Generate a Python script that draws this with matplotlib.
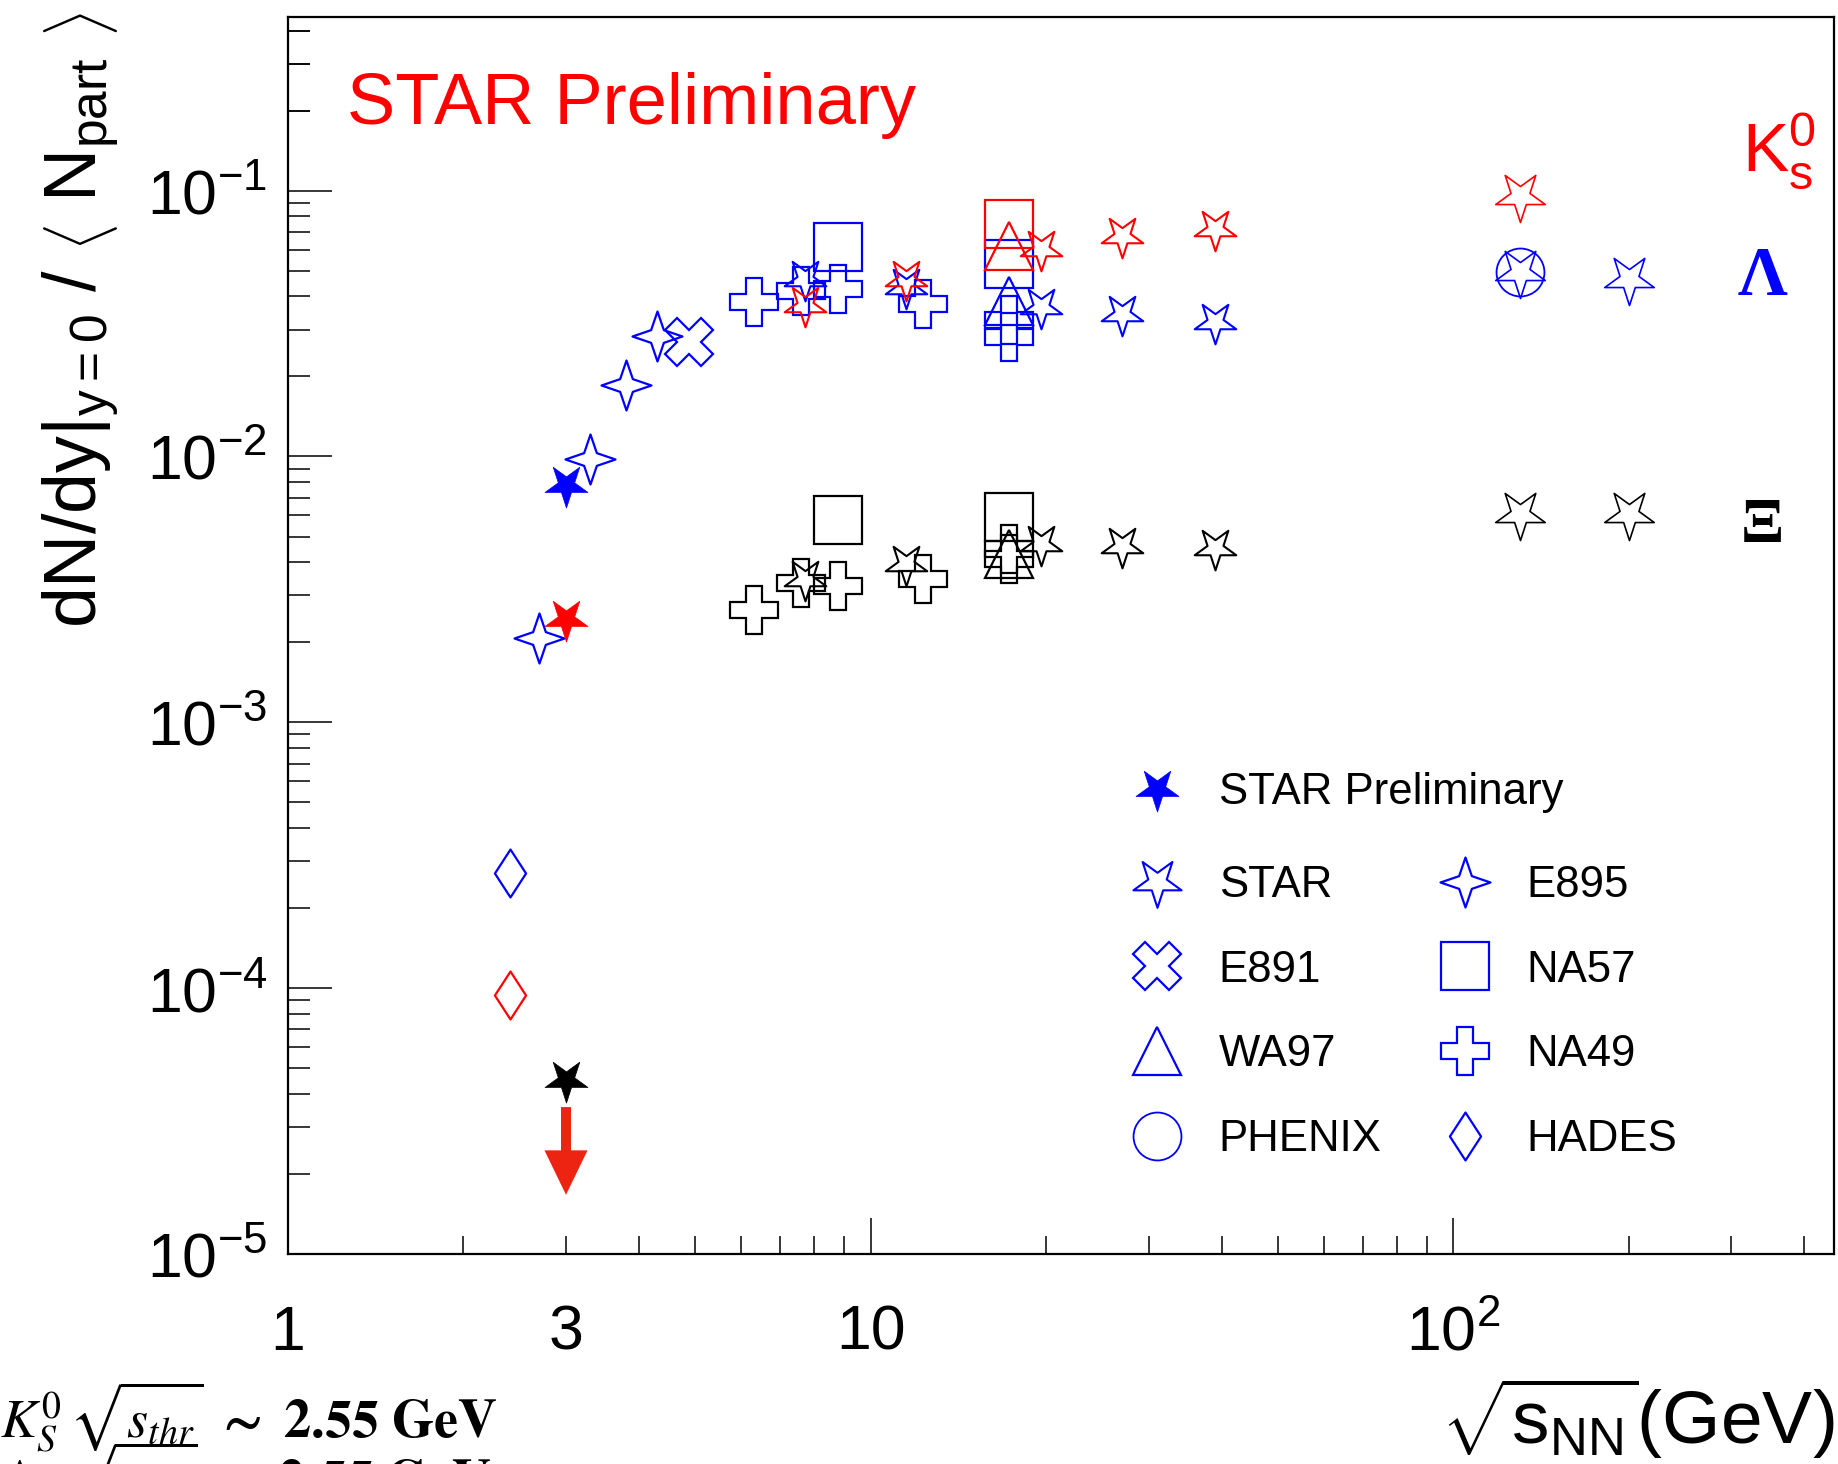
import numpy as np
import matplotlib
matplotlib.use("Agg")
import matplotlib.pyplot as plt
from matplotlib.path import Path
from matplotlib.lines import Line2D
from matplotlib.ticker import FixedLocator, FixedFormatter, FuncFormatter, NullFormatter

plt.rcParams['font.family'] = ['Liberation Sans', 'DejaVu Sans']
plt.rcParams['mathtext.fontset'] = 'custom'
plt.rcParams['mathtext.rm'] = 'Liberation Sans'
plt.rcParams['mathtext.it'] = 'Liberation Sans:italic'
plt.rcParams['mathtext.bf'] = 'Liberation Sans:bold'
plt.rcParams['mathtext.sf'] = 'Liberation Sans'

# ---------------- data ----------------
# K0s (red)
k0s_prelim_x = [3.0];                      k0s_prelim_y = [2.45e-3]
k0s_star_x = [7.7, 11.5, 19.6, 27.0, 39.0]; k0s_star_y = [0.037, 0.0466, 0.0604, 0.0677, 0.0718]
k0s_star_hi_x = [130.0];                   k0s_star_hi_y = [0.0957]
k0s_na57_x = [17.3];                       k0s_na57_y = [0.075]
k0s_wa97_x = [17.3];                       k0s_wa97_y = [0.062]
k0s_hades_x = [2.4];                       k0s_hades_y = [9.4e-5]

# Lambda (blue)
lam_prelim_x = [3.0];                      lam_prelim_y = [7.8e-3]
lam_e895_x = [2.7, 3.3, 3.8, 4.3];         lam_e895_y = [2.07e-3, 9.8e-3, 0.0186, 0.0284]
lam_e891_x = [4.87];                       lam_e891_y = [0.027]
lam_na49_x = [6.3, 7.6, 8.8, 12.3, 17.3, 17.3]
lam_na49_y = [0.038, 0.042, 0.0427, 0.0376, 0.0325, 0.0281]
lam_star_x = [7.7, 11.5, 19.6, 27.0, 39.0]; lam_star_y = [0.0467, 0.0433, 0.0364, 0.0344, 0.032]
lam_star_hi_x = [130.0, 200.0];            lam_star_hi_y = [0.0493, 0.0466]
lam_na57_x = [8.8, 17.3];                  lam_na57_y = [0.0612, 0.053]
lam_wa97_x = [17.3];                       lam_wa97_y = [0.0386]
lam_phenix_x = [130.0];                    lam_phenix_y = [0.0493]
lam_hades_x = [2.4];                       lam_hades_y = [2.72e-4]

# Xi (black)
xi_prelim_x = [3.0];                       xi_prelim_y = [4.5e-5]
xi_na49_x = [6.3, 7.6, 8.8, 12.3, 17.3, 17.3]
xi_na49_y = [2.65e-3, 3.34e-3, 3.27e-3, 3.47e-3, 4.5e-3, 4.1e-3]
xi_star_x = [7.7, 11.5, 19.6, 27.0, 39.0]; xi_star_y = [3.47e-3, 3.95e-3, 4.7e-3, 4.62e-3, 4.54e-3]
xi_star_hi_x = [130.0, 200.0];             xi_star_hi_y = [6.1e-3, 6.1e-3]
xi_na57_x = [8.8, 17.3];                   xi_na57_y = [5.75e-3, 5.91e-3]
xi_wa97_x = [17.3];                        xi_wa97_y = [4.28e-3]

# upper-limit arrow at 3 GeV
arrow_x = 3.0
arrow_tail_y = 3.57e-5
arrow_tip_y = 1.67e-5

x_major = [1, 10, 100]
x_major_labels = ['1', '10', r'$10^{2}$']
x_minor = [2, 3, 4, 5, 6, 7, 8, 9, 20, 30, 40, 50, 60, 70, 80, 90, 200, 300, 400]
y_major = [1e-5, 1e-4, 1e-3, 1e-2, 1e-1]
y_major_labels = [r'$10^{-5}$', r'$10^{-4}$', r'$10^{-3}$', r'$10^{-2}$', r'$10^{-1}$']
y_minor = [m * 10.0 ** e for e in range(-5, 0) for m in range(2, 10)] + [0.2, 0.3, 0.4]

legend_first = ['STAR Preliminary']
legend_left = ['STAR', 'E891', 'WA97', 'PHENIX']
legend_right = ['E895', 'NA57', 'NA49', 'HADES']

# ---------------- markers ----------------
_st = Path.unit_regular_star(5, 0.381966)
STAR_DOWN = Path(-_st.vertices, _st.codes)
_ang = np.deg2rad(np.arange(90, 450, 45))
_rad = np.array([1.0 if i % 2 == 0 else 0.36 for i in range(8)])
_v4 = np.column_stack([_rad * np.cos(_ang), _rad * np.sin(_ang)])
STAR4 = Path(np.vstack([_v4, _v4[:1]]), [Path.MOVETO] + [Path.LINETO] * 7 + [Path.CLOSEPOLY])
DIAMOND = Path([(0, 1), (0.65, 0), (0, -1), (-0.65, 0), (0, 1)],
               [Path.MOVETO, Path.LINETO, Path.LINETO, Path.LINETO, Path.CLOSEPOLY])

BLUE, RED, BLACK = '#0000FF', '#FF0000', '#000000'

fig = plt.figure(figsize=(18.38, 14.64), dpi=100)
W, H = 1838.0, 1464.0
ax = fig.add_axes([288 / W, 1 - 1254 / H, (1834 - 288) / W, (1254 - 17) / H])
ax.set_xscale('log')
ax.set_yscale('log')
ax.set_xlim(1, 450)
ax.set_ylim(1e-5, 0.45)


def draw(x, y, marker, ms, color, filled=False, mew=1.6, z=3):
    ax.plot(x, y, ls='none', marker=marker, ms=ms,
            mfc=color if filled else 'none', mec=color, mew=mew, zorder=z)


MS = 34
for col, sets in [
    (BLACK, dict(na49=(xi_na49_x, xi_na49_y), star=(xi_star_x, xi_star_y), hi=(xi_star_hi_x, xi_star_hi_y),
                 na57=(xi_na57_x, xi_na57_y), wa97=(xi_wa97_x, xi_wa97_y))),
    (BLUE, dict(na49=(lam_na49_x, lam_na49_y), star=(lam_star_x, lam_star_y), hi=(lam_star_hi_x, lam_star_hi_y),
                na57=(lam_na57_x, lam_na57_y), wa97=(lam_wa97_x, lam_wa97_y))),
    (RED, dict(star=(k0s_star_x, k0s_star_y), hi=(k0s_star_hi_x, k0s_star_hi_y),
               na57=(k0s_na57_x, k0s_na57_y), wa97=(k0s_wa97_x, k0s_wa97_y))),
]:
    if 'na49' in sets:
        draw(*sets['na49'], 'P', MS, col)
    draw(*sets['na57'], 's', MS, col)
    draw(*sets['wa97'], '^', 35, col)
    draw(*sets['star'], STAR_DOWN, 31.5, col, mew=1.5)
    draw(*sets['hi'], STAR_DOWN, 37.5, col, mew=1.2)

draw(lam_e895_x, lam_e895_y, STAR4, 36, BLUE)
draw(lam_e891_x, lam_e891_y, 'X', 34, BLUE)
draw(lam_phenix_x, lam_phenix_y, 'o', 34.5, BLUE, mew=1.3)
draw(lam_hades_x, lam_hades_y, DIAMOND, 34.5, BLUE)
draw(k0s_hades_x, k0s_hades_y, DIAMOND, 34.5, RED)
draw(lam_prelim_x, lam_prelim_y, STAR_DOWN, 32.5, BLUE, filled=True, mew=0.5, z=5)
draw(k0s_prelim_x, k0s_prelim_y, STAR_DOWN, 32.5, RED, filled=True, mew=0.5, z=5)
draw(xi_prelim_x, xi_prelim_y, STAR_DOWN, 32.5, BLACK, filled=True, mew=0.5, z=5)

ax.annotate('', xy=(arrow_x, arrow_tip_y), xytext=(arrow_x, arrow_tail_y),
            arrowprops=dict(width=7.2, headwidth=31, headlength=32, color='#EE2412',
                            lw=0, shrink=0), annotation_clip=False)

# ---------------- axes styling ----------------
for s in ax.spines.values():
    s.set_linewidth(1.6)
ax.xaxis.set_major_locator(FixedLocator(x_major))
ax.xaxis.set_major_formatter(FixedFormatter(x_major_labels))
ax.xaxis.set_minor_locator(FixedLocator(x_minor))
ax.xaxis.set_minor_formatter(FuncFormatter(lambda v, p: '3' if abs(v - 3) < 1e-9 else ''))
ax.yaxis.set_major_locator(FixedLocator(y_major))
ax.yaxis.set_major_formatter(FixedFormatter(y_major_labels))
ax.yaxis.set_minor_locator(FixedLocator(y_minor))
ax.yaxis.set_minor_formatter(NullFormatter())
ax.tick_params(which='both', direction='in', top=False, right=False, width=1.1,
               labelsize=45, colors='black')
ax.tick_params(axis='x', which='major', length=26, pad=69)
ax.tick_params(axis='x', which='minor', length=13, pad=69)
ax.tick_params(axis='y', which='major', length=32, pad=15)
ax.tick_params(axis='y', which='minor', length=16, pad=15)
for t in ax.xaxis.get_major_ticks() + ax.xaxis.get_minor_ticks():
    t.label1.set_verticalalignment('baseline')

# ---------------- texts ----------------
fig.text(347 / W, 1 - 124 / H, 'STAR Preliminary', color=RED, fontsize=52, ha='left', va='baseline')
fig.text(1742 / W, 1 - 172 / H, r'$\mathrm{K}_{\mathrm{s}}^{\mathrm{0}}$', color=RED, fontsize=50,
         ha='left', va='baseline')
fig.text(1738 / W, 1 - 295 / H, 'Λ', family='Liberation Serif', weight='bold', color=BLUE,
         fontsize=50, ha='left', va='baseline')
fig.text(1741 / W, 1 - 542 / H, 'Ξ', family='Liberation Serif', weight='bold', color=BLACK,
         fontsize=46, ha='left', va='baseline')

fig.text(97 / W, 1 - 12 / H,
         r'dN/dy|$_{\mathrm{y=0}}$ / $\left\langle\ \mathrm{N}_{\mathrm{part}}\ \right\rangle$',
         rotation=90, rotation_mode='anchor', ha='right', va='baseline', fontsize=53)
fig.text(1834 / W, 1 - 1444 / H, r'$\sqrt{\mathrm{s}_{\mathrm{NN}}}$(GeV)', fontsize=54,
         ha='right', va='baseline')

fig.text(0 / W, 1 - 1437 / H, r'$K_S^0\,\sqrt{s_{thr}}\ \mathbf{\sim\ 2.55\ GeV}$',
         math_fontfamily='stix', fontsize=39, ha='left', va='baseline')
fig.text(0 / W, 1 - 1498 / H, r'$\Lambda\ \ \sqrt{s_{thr}}\ \mathbf{\sim\ 2.55\ GeV}$',
         math_fontfamily='stix', fontsize=39, ha='left', va='baseline')

# ---------------- legend ----------------
def handle(marker, ms, filled=False, mew=1.6):
    return Line2D([], [], ls='none', marker=marker, ms=ms, mec=BLUE,
                  mfc=BLUE if filled else 'none', mew=mew)


leg_kw = dict(frameon=False, fontsize=31.5, handlelength=1.4, handletextpad=0.72, borderpad=0,
              borderaxespad=0, labelspacing=1.0, loc='upper left', bbox_transform=fig.transFigure,
              numpoints=1)
fig.legend([handle(STAR_DOWN, 32.5, True, 0.5)], legend_first,
           bbox_to_anchor=(1126 / W, 1 - 772 / H), **leg_kw)
fig.legend([handle(STAR_DOWN, 36.5, mew=1.5), handle('X', 34), handle('^', 35), handle('o', 34.5, mew=1.3)],
           legend_left, bbox_to_anchor=(1126 / W, 1 - 865 / H), **leg_kw)
fig.legend([handle(STAR4, 36), handle('s', 34), handle('P', 34), handle(DIAMOND, 34.5)],
           legend_right, bbox_to_anchor=(1434 / W, 1 - 865 / H), **leg_kw)

fig.savefig('out.png', dpi=100)
